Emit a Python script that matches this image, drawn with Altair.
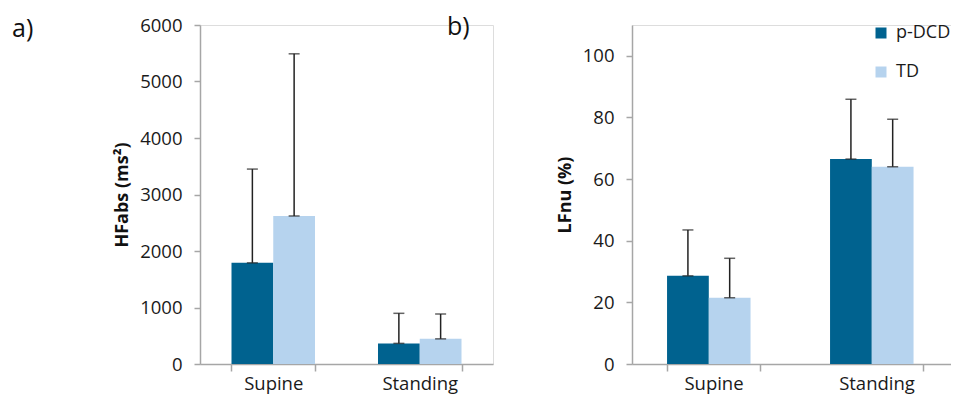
import altair as alt
import pandas as pd

positions = ["Supine", "Supine", "Standing", "Standing"]
groups = ["p-DCD", "TD", "p-DCD", "TD"]
hf_mean = [1790, 2620, 365, 445]
hf_upper = [3450, 5490, 897, 885]
lf_mean = [28.6, 21.5, 66.5, 64.0]
lf_upper = [43.5, 34.3, 85.9, 79.4]
panel_labels = ["a)", "b)"]

group_order = ["p-DCD", "TD"]
pos_order = ["Supine", "Standing"]
colors = ["#00628f", "#b6d3ee"]
FONT = "Open Sans"
AXIS_GRAY = "#a6a6a6"
TXT = "#1a1a1a"

df_hf = pd.DataFrame({"pos": positions, "grp": groups, "mean": hf_mean, "upper": hf_upper})
df_lf = pd.DataFrame({"pos": positions, "grp": groups, "mean": lf_mean, "upper": lf_upper})


def panel(df, domain, tick_values, title, width, show_legend):
    base = alt.Chart(df)
    x = alt.X(
        "pos:N",
        sort=pos_order,
        title=None,
        scale=alt.Scale(paddingInner=0.43, paddingOuter=0.215),
        axis=alt.Axis(
            tickBand="extent",
            labelAngle=0,
            labelFont=FONT,
            labelFontSize=18.5,
            labelColor=TXT,
            labelPadding=3,
            domainColor=AXIS_GRAY,
            tickColor=AXIS_GRAY,
            tickSize=7,
            domainWidth=1.5,
            tickWidth=1.5,
        ),
    )
    xo = alt.XOffset("grp:N", sort=group_order, scale=alt.Scale(paddingInner=0, paddingOuter=0))
    yscale = alt.Scale(domain=domain, nice=False, zero=True)
    yaxis = alt.Axis(
        values=tick_values,
        format="d",
        grid=False,
        title=title,
        titleFont=FONT,
        titleFontSize=18,
        titleFontWeight="bold",
        titleColor="#111111",
        titlePadding=8,
        labelFont=FONT,
        labelFontSize=18.5,
        labelColor=TXT,
        labelPadding=12,
        domainColor=AXIS_GRAY,
        tickColor=AXIS_GRAY,
        tickSize=6,
        domainWidth=1.5,
        tickWidth=1.5,
    )
    if show_legend:
        legend = alt.Legend(
            title=None,
            orient="none",
            legendX=width - 86,
            legendY=-1,
            symbolType="square",
            symbolSize=121,
            symbolStrokeWidth=0,
            labelFont=FONT,
            labelFontSize=18,
            labelColor=TXT,
            labelOffset=6,
            rowPadding=21,
        )
    else:
        legend = None
    color = alt.Color("grp:N", sort=group_order, scale=alt.Scale(domain=group_order, range=colors), legend=legend)

    bars = base.mark_bar().encode(
        x=x, xOffset=xo, y=alt.Y("mean:Q", scale=yscale, axis=yaxis), color=color
    )
    rules = base.mark_rule(color="#222222", strokeWidth=1.5).encode(
        x=x, xOffset=xo, y="mean:Q", y2="upper:Q"
    )
    cap_top = base.mark_tick(color="#222222", thickness=1.5, size=11, orient="horizontal").encode(
        x=x, xOffset=xo, y="upper:Q"
    )
    cap_bot = base.mark_tick(color="#222222", thickness=1.5, size=11, orient="horizontal").encode(
        x=x, xOffset=xo, y="mean:Q"
    )
    return alt.layer(bars, rules, cap_top, cap_bot).properties(width=width, height=339)


left = panel(df_hf, [0, 6000], [0, 1000, 2000, 3000, 4000, 5000, 6000], "HFabs (ms²)", 293, False)
right = panel(df_lf, [0, 110], [0, 20, 40, 60, 80, 100], "LFnu (%)", 326, True)

lab_df = pd.DataFrame({"t": panel_labels, "x": [-188, 247], "y": [12, 10]})
labels = alt.Chart(lab_df).mark_text(
    font=FONT, fontSize=25, align="left", baseline="alphabetic", color="#111111"
).encode(x=alt.X("x:Q", scale=None), y=alt.Y("y:Q", scale=None), text="t:N")

left = alt.layer(left, labels)

chart = (
    alt.hconcat(left, right, spacing=139, bounds="flush")
    .resolve_scale(color="independent", y="independent")
    .properties(
        autosize=alt.AutoSizeParams(type="none"),
        padding={"left": 192, "top": 17, "right": 751, "bottom": 366},
    )
    .configure_view(stroke=None)
    .configure(background="white")
)

chart.save("out.html", embed_options={"renderer": "svg", "actions": False})
